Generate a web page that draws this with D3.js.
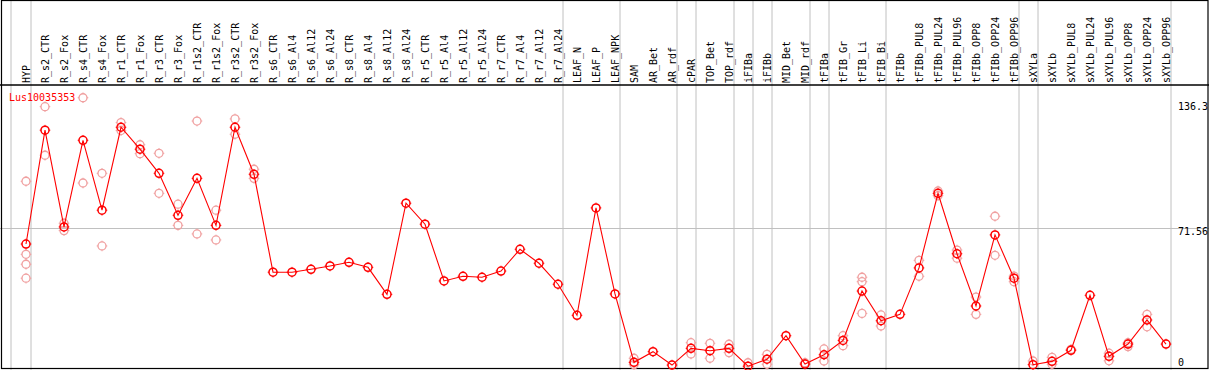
<!DOCTYPE html>
<html>
<head>
<meta charset="utf-8">
<script src="https://cdn.jsdelivr.net/npm/d3@7"></script>
<style>
  html, body { margin: 0; padding: 0; background: #fff; }
  svg { display: block; }
  text { font-family: "DejaVu Sans Mono", "Liberation Mono", monospace; font-size: 10px; }
</style>
</head>
<body>
<svg id="chart" width="1209" height="370"></svg>
<script>
const title = "Lus10035353";

const categories = ["HYP","R_s2_CTR","R_s2_Fox","R_s4_CTR","R_s4_Fox","R_r1_CTR","R_r1_Fox","R_r3_CTR","R_r3_Fox",
  "R_r1s2_CTR","R_r1s2_Fox","R_r3s2_CTR","R_r3s2_Fox","R_s6_CTR","R_s6_Al4","R_s6_Al12","R_s6_Al24",
  "R_s8_CTR","R_s8_Al4","R_s8_Al12","R_s8_Al24","R_r5_CTR","R_r5_Al4","R_r5_Al12","R_r5_Al24",
  "R_r7_CTR","R_r7_Al4","R_r7_Al12","R_r7_Al24","LEAF_N","LEAF_P","LEAF_NPK","SAM","AR_Bet","AR_rdf",
  "cPAR","TOP_Bet","TOP_rdf","iFIBa","iFIBb","MID_Bet","MID_rdf","tFIBa","tFIB_Gr","tFIB_Li","tFIB_Bi",
  "tFIBb","tFIBb_PUL8","tFIBb_PUL24","tFIBb_PUL96","tFIBb_OPP8","tFIBb_OPP24","tFIBb_OPP96",
  "sXYLa","sXYLb","sXYLb_PUL8","sXYLb_PUL24","sXYLb_PUL96","sXYLb_OPP8","sXYLb_OPP24","sXYLb_OPP96"];

const means = [63.3,121.9,72.1,116.7,80.7,123.4,112.1,99.7,78.1,
  97.1,72.9,123.4,99.2,48.8,48.8,50.3,52.0,
  53.9,51.3,37.4,84.3,73.5,44.3,46.7,46.2,
  49.4,60.6,53.4,42.6,26.6,81.9,37.6,2.4,7.9,1.0,
  9.6,8.4,9.6,0.4,4.0,16.1,1.5,6.3,13.7,39.1,23.8,
  27.1,51.0,89.4,58.3,31.4,68.0,45.7,
  1.2,2.9,8.6,36.9,5.5,11.8,24.2,11.8];

const replicates = [[95.6,58.0,52.9,45.7],[134.0,109.0],[74.0,70.2],[138.6,94.7],[99.7,62.3],[125.8,121.7],[114.4,109.8],[110.0,89.4],[83.8,72.9],
  [126.6,68.5],[80.7,65.4],[127.7,119.8],[101.8,97.1],[],[],[],[],
  [],[],[],[],[],[],[],[],
  [],[],[],[],[],[],[],[4.5,1.2],[],[],
  [12.5,6.7],[12.2,4.5],[11.7,7.4],[2.2],[6.5,1.4],[],[2.2],[9.3,3.1],[16.1,11.0],[46.2,43.9,27.6],[26.8,21.1],
  [],[54.9,46.7],[90.6,88.2],[60.2,56.0],[36.0,27.1],[77.6,57.5],[46.8,43.9],
  [3.1],[5.0,1.4],[9.1],[],[7.1,3.2],[12.5,10.5],[27.1,20.7],[]];

// last category of each group (a separator is drawn right after it)
const groupEnds = ["HYP","R_r7_Al24","LEAF_NPK","AR_rdf","cPAR","TOP_rdf","iFIBa","iFIBb","MID_rdf","tFIBa","tFIB_Bi","tFIBb_OPP96","sXYLa","sXYLb_OPP96"];

const yTicks = [136.3, 71.56, 0];
const yGrid = [71.56];

const W = 1209, H = 370;
const svg = d3.select("#chart");

const x = d3.scalePoint().domain(categories).range([26, 1166]);
const y = d3.scaleLinear().domain([0, 136.3]).range([367, 102.2]);

const headerY = 85, bottomY = 368.5;

// gridlines
const gx = [x(categories[0]) - 15].concat(groupEnds.map(c => x(c) + 5));
svg.append("g").selectAll("line").data(gx).join("line")
  .attr("x1", d => d).attr("x2", d => d).attr("y1", 0).attr("y2", H)
  .attr("stroke", "#c0c0c0").attr("stroke-width", 1);
svg.append("g").selectAll("line").data(yGrid).join("line")
  .attr("x1", 0).attr("x2", W).attr("y1", d => Math.round(y(d)) + 0.5).attr("y2", d => Math.round(y(d)) + 0.5)
  .attr("stroke", "#c0c0c0").attr("stroke-width", 1);

// frame
svg.append("rect").attr("x", 1.5).attr("y", 0.5).attr("width", W - 2.5).attr("height", bottomY - 0.5)
  .attr("fill", "none").attr("stroke", "#000").attr("stroke-width", 1.2);
svg.append("line").attr("x1", 0).attr("x2", W).attr("y1", headerY).attr("y2", headerY)
  .attr("stroke", "#000").attr("stroke-width", 1.5);

// category labels
svg.append("g").selectAll("text").data(categories).join("text")
  .attr("transform", d => `translate(${x(d)},${headerY - 2}) rotate(-90)`)
  .attr("text-anchor", "start")
  .attr("dy", "0.35em")
  .attr("fill", "#000")
  .text(d => d);

// y labels
svg.append("g").selectAll("text").data(yTicks).join("text")
  .attr("x", 1178)
  .attr("y", d => Math.min(y(d) + 4, 362))
  .attr("dy", "0.35em")
  .attr("fill", "#000")
  .text(d => d);

// title
svg.append("text").attr("x", 9).attr("y", 97).attr("dy", "0.35em").attr("fill", "#ff0000").text(title);

function marker(g, color, sw) {
  g.append("circle").attr("r", 4).attr("fill", "none").attr("stroke", color).attr("stroke-width", sw);
  g.append("path").attr("d", "M0,-4V-5.3M0,4V5.3M-4,0H-5.3M4,0H5.3")
    .attr("stroke", color).attr("stroke-width", 1);
}

// replicates
const reps = [];
categories.forEach((c, i) => replicates[i].forEach(v => reps.push({c, v})));
svg.append("g").selectAll("g").data(reps).join("g")
  .attr("transform", d => `translate(${x(d.c)},${y(d.v)})`)
  .each(function() { marker(d3.select(this), "#f0a0a0", 1.3); });

// line
const line = d3.line().x((d, i) => x(categories[i])).y(d => y(d));
svg.append("path").datum(means).attr("d", line).attr("fill", "none").attr("stroke", "#ff0000").attr("stroke-width", 1.1);

// means
svg.append("g").selectAll("g").data(means).join("g")
  .attr("transform", (d, i) => `translate(${x(categories[i])},${y(d)})`)
  .each(function() { marker(d3.select(this), "#ff0000", 1.5); });
</script>
</body>
</html>
